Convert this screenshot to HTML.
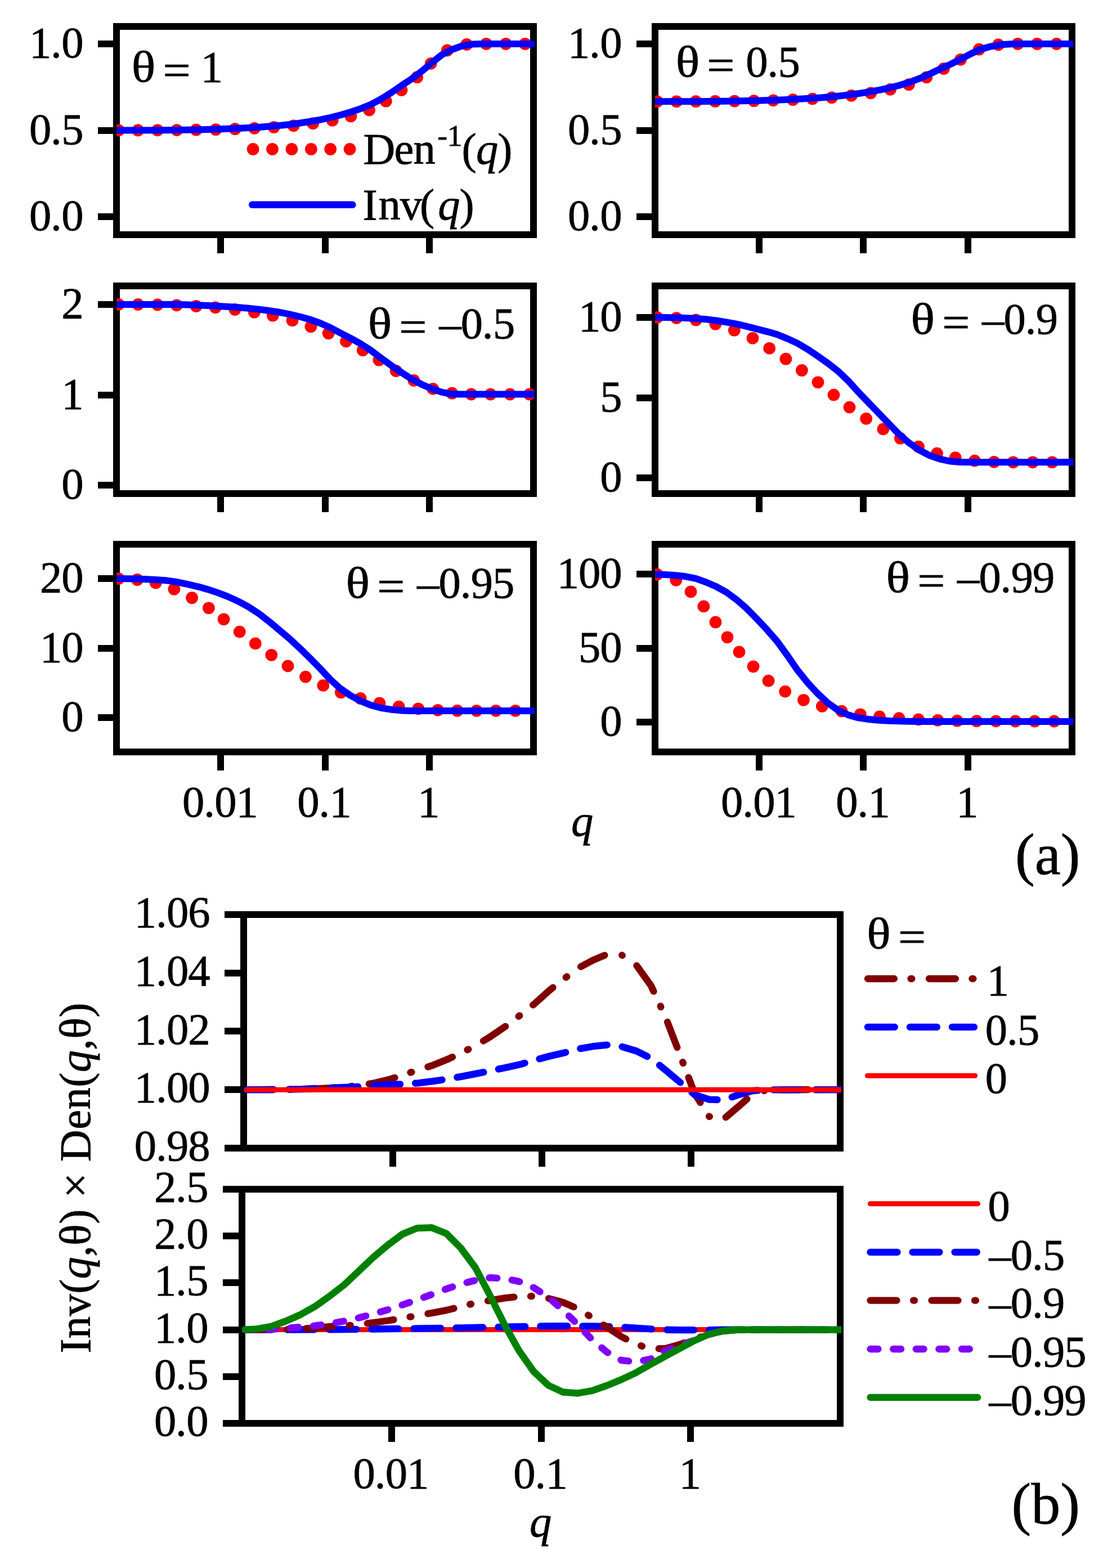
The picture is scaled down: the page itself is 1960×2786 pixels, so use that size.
<!DOCTYPE html>
<html lang="en"><head><meta charset="utf-8"><title>Den and Inv figure</title>
<style>
html,body{margin:0;padding:0;background:#fff;}
svg{display:block;}
text{font-family:"Liberation Serif","Times New Roman",serif;fill:#000;}
</style></head><body>
<svg width="1960" height="2786" viewBox="0 0 1960 2786">
<rect width="1960" height="2786" fill="#fff"/>
<rect x="207.0" y="47.0" width="741" height="370" fill="none" stroke="#000" stroke-width="12"/>
<rect x="174" y="72" width="28" height="12" fill="#000"/>
<g transform="translate(147.4,102)"><text style="font-size:78.5px;stroke:#000;stroke-width:0.8px;"><tspan x="-95.48 -57.29 -38.19" y="0.00">1.0</tspan></text></g>
<rect x="174" y="226" width="28" height="12" fill="#000"/>
<g transform="translate(147.4,256)"><text style="font-size:78.5px;stroke:#000;stroke-width:0.8px;"><tspan x="-95.48 -57.29 -38.19" y="0.00">0.5</tspan></text></g>
<rect x="174" y="379" width="28" height="12" fill="#000"/>
<g transform="translate(147.4,409)"><text style="font-size:78.5px;stroke:#000;stroke-width:0.8px;"><tspan x="-95.48 -57.29 -38.19" y="0.00">0.0</tspan></text></g>
<rect x="386" y="422" width="12" height="28" fill="#000"/>
<rect x="572" y="422" width="12" height="28" fill="#000"/>
<rect x="757" y="422" width="12" height="28" fill="#000"/>
<g transform="translate(236.3,144.7)"><text transform="translate(-2.44,0.00) scale(1.13,1)" style="font-size:78.5px;stroke:#000;stroke-width:0.8px;">θ</text><text transform="translate(53.25,6.00) scale(1.11,1)" style="font-size:78.5px;stroke:#000;stroke-width:0.8px;">=</text><text style="font-size:78.5px;stroke:#000;stroke-width:0.8px;"><tspan x="120.35" y="0.00">1</tspan></text></g>
<clipPath id="c1"><rect x="207" y="47" width="743" height="372"/></clipPath>
<g fill="#f00" clip-path="url(#c1)"><circle cx="210.7" cy="231.5" r="10.9"/><circle cx="245.1" cy="231.5" r="10.9"/><circle cx="279.9" cy="231.4" r="10.9"/><circle cx="314.2" cy="231.1" r="10.9"/><circle cx="348.6" cy="230.7" r="10.9"/><circle cx="383.4" cy="230.2" r="10.9"/><circle cx="417.7" cy="229.2" r="10.9"/><circle cx="452.1" cy="227.9" r="10.9"/><circle cx="486.6" cy="226.1" r="10.9"/><circle cx="521.6" cy="223.4" r="10.9"/><circle cx="556.1" cy="219.4" r="10.9"/><circle cx="590.7" cy="213.9" r="10.9"/><circle cx="623.4" cy="206.5" r="10.9"/><circle cx="656.1" cy="195.5" r="10.9"/><circle cx="685.8" cy="179.7" r="10.9"/><circle cx="713.5" cy="160.0" r="10.9"/><circle cx="741.1" cy="137.2" r="10.9"/><circle cx="765.7" cy="112.8" r="10.9"/><circle cx="794.8" cy="89.5" r="10.9"/><circle cx="829.3" cy="79.0" r="10.9"/><circle cx="864.0" cy="78.0" r="10.9"/><circle cx="898.8" cy="78.0" r="10.9"/><circle cx="933.0" cy="78.0" r="10.9"/></g>
<path d="M210.7,231.5 L261.2,231.4 L297.4,231.2 L333.5,230.8 L351.6,230.5 L369.7,230.1 L387.7,229.5 L423.9,228.0 L442.0,227.1 L460.0,226.0 L478.1,224.6 L496.2,223.1 L514.2,221.2 L532.3,218.8 L550.4,216.0 L568.5,212.8 L586.5,209.0 L604.6,204.5 L622.7,199.3 L640.8,193.1 L658.8,185.7 L676.9,176.1 L695.0,164.9 L713.0,152.3 L731.1,140.4 L749.2,126.8 L767.3,111.5 L785.3,97.2 L803.4,88.0 L821.5,81.4 L839.6,78.6 L857.6,78.0 L948.0,78.0" fill="none" stroke="#00f" stroke-width="12" stroke-linecap="round" stroke-linejoin="round" clip-path="url(#c1)"/>
<rect x="1164.0" y="47.0" width="741" height="370" fill="none" stroke="#000" stroke-width="12"/>
<rect x="1131" y="72" width="28" height="12" fill="#000"/>
<g transform="translate(1104.4,102)"><text style="font-size:78.5px;stroke:#000;stroke-width:0.8px;"><tspan x="-95.48 -57.29 -38.19" y="0.00">1.0</tspan></text></g>
<rect x="1131" y="226" width="28" height="12" fill="#000"/>
<g transform="translate(1104.4,256)"><text style="font-size:78.5px;stroke:#000;stroke-width:0.8px;"><tspan x="-95.48 -57.29 -38.19" y="0.00">0.5</tspan></text></g>
<rect x="1131" y="379" width="28" height="12" fill="#000"/>
<g transform="translate(1104.4,409)"><text style="font-size:78.5px;stroke:#000;stroke-width:0.8px;"><tspan x="-95.48 -57.29 -38.19" y="0.00">0.0</tspan></text></g>
<rect x="1343" y="422" width="12" height="28" fill="#000"/>
<rect x="1528" y="422" width="12" height="28" fill="#000"/>
<rect x="1714" y="422" width="12" height="28" fill="#000"/>
<g transform="translate(1203.1,136)"><text transform="translate(-2.44,0.00) scale(1.13,1)" style="font-size:78.5px;stroke:#000;stroke-width:0.8px;">θ</text><text transform="translate(53.25,6.00) scale(1.11,1)" style="font-size:78.5px;stroke:#000;stroke-width:0.8px;">=</text><text style="font-size:78.5px;stroke:#000;stroke-width:0.8px;"><tspan x="122.15 160.34 179.44" y="0.00">0.5</tspan></text></g>
<clipPath id="c2"><rect x="1164" y="47" width="743" height="372"/></clipPath>
<g fill="#f00" clip-path="url(#c2)"><circle cx="1167.7" cy="180.3" r="10.9"/><circle cx="1202.1" cy="180.3" r="10.9"/><circle cx="1236.5" cy="180.2" r="10.9"/><circle cx="1270.9" cy="180.0" r="10.9"/><circle cx="1305.3" cy="179.7" r="10.9"/><circle cx="1339.7" cy="179.2" r="10.9"/><circle cx="1374.1" cy="178.3" r="10.9"/><circle cx="1408.9" cy="177.2" r="10.9"/><circle cx="1443.7" cy="175.6" r="10.9"/><circle cx="1478.0" cy="173.3" r="10.9"/><circle cx="1512.8" cy="169.9" r="10.9"/><circle cx="1547.3" cy="165.3" r="10.9"/><circle cx="1582.0" cy="158.9" r="10.9"/><circle cx="1614.9" cy="150.2" r="10.9"/><circle cx="1646.3" cy="137.4" r="10.9"/><circle cx="1677.0" cy="122.0" r="10.9"/><circle cx="1706.9" cy="105.9" r="10.9"/><circle cx="1739.8" cy="87.7" r="10.9"/><circle cx="1774.1" cy="79.5" r="10.9"/><circle cx="1808.5" cy="78.0" r="10.9"/><circle cx="1842.9" cy="78.0" r="10.9"/><circle cx="1877.4" cy="78.0" r="10.9"/></g>
<path d="M1167.7,180.3 L1236.3,180.2 L1272.4,179.9 L1308.6,179.4 L1344.7,178.7 L1380.9,177.7 L1399.0,177.0 L1417.0,176.1 L1435.1,175.1 L1453.2,173.9 L1471.2,172.5 L1489.3,170.7 L1507.4,168.6 L1525.5,166.2 L1543.5,163.4 L1561.6,160.2 L1579.7,156.3 L1597.8,151.7 L1615.8,146.3 L1633.9,139.4 L1652.0,131.5 L1670.0,122.8 L1688.1,114.6 L1706.2,105.6 L1724.3,96.0 L1742.3,87.5 L1760.4,82.6 L1778.5,79.3 L1796.6,78.2 L1814.6,78.0 L1905.0,78.0" fill="none" stroke="#00f" stroke-width="12" stroke-linecap="round" stroke-linejoin="round" clip-path="url(#c2)"/>
<rect x="207.0" y="508.0" width="741" height="369" fill="none" stroke="#000" stroke-width="12"/>
<rect x="174" y="535" width="28" height="12" fill="#000"/>
<g transform="translate(147.4,565)"><text style="font-size:78.5px;stroke:#000;stroke-width:0.8px;"><tspan x="-38.19" y="0.00">2</tspan></text></g>
<rect x="174" y="696" width="28" height="12" fill="#000"/>
<g transform="translate(147.4,725.5)"><text style="font-size:78.5px;stroke:#000;stroke-width:0.8px;"><tspan x="-38.19" y="0.00">1</tspan></text></g>
<rect x="174" y="856" width="28" height="12" fill="#000"/>
<g transform="translate(147.4,886)"><text style="font-size:78.5px;stroke:#000;stroke-width:0.8px;"><tspan x="-38.19" y="0.00">0</tspan></text></g>
<rect x="386" y="882" width="12" height="28" fill="#000"/>
<rect x="572" y="882" width="12" height="28" fill="#000"/>
<rect x="757" y="882" width="12" height="28" fill="#000"/>
<g transform="translate(656.1,600.7)"><text transform="translate(-2.44,0.00) scale(1.13,1)" style="font-size:78.5px;stroke:#000;stroke-width:0.8px;">θ</text><text transform="translate(53.25,6.00) scale(1.11,1)" style="font-size:78.5px;stroke:#000;stroke-width:0.8px;">=</text><text style="font-size:78.5px;stroke:#000;stroke-width:0.8px;"><tspan x="124.35 162.54 200.73 219.83" y="0.00">–0.5</tspan></text></g>
<clipPath id="c3"><rect x="207" y="508" width="743" height="371"/></clipPath>
<g fill="#f00" clip-path="url(#c3)"><circle cx="210.7" cy="540.9" r="10.9"/><circle cx="245.3" cy="541.0" r="10.9"/><circle cx="279.8" cy="541.5" r="10.9"/><circle cx="313.9" cy="542.4" r="10.9"/><circle cx="348.6" cy="544.0" r="10.9"/><circle cx="382.8" cy="546.3" r="10.9"/><circle cx="417.5" cy="550.0" r="10.9"/><circle cx="451.9" cy="554.7" r="10.9"/><circle cx="484.8" cy="560.7" r="10.9"/><circle cx="519.5" cy="569.4" r="10.9"/><circle cx="552.4" cy="580.3" r="10.9"/><circle cx="583.7" cy="592.3" r="10.9"/><circle cx="615.0" cy="606.6" r="10.9"/><circle cx="644.7" cy="622.2" r="10.9"/><circle cx="673.4" cy="639.7" r="10.9"/><circle cx="703.7" cy="659.0" r="10.9"/><circle cx="735.4" cy="676.0" r="10.9"/><circle cx="769.3" cy="690.9" r="10.9"/><circle cx="803.2" cy="698.7" r="10.9"/><circle cx="837.4" cy="700.5" r="10.9"/><circle cx="871.6" cy="700.6" r="10.9"/><circle cx="906.3" cy="700.6" r="10.9"/><circle cx="940.7" cy="700.6" r="10.9"/></g>
<path d="M210.7,540.9 L297.4,540.9 L315.4,541.1 L333.5,541.6 L351.6,542.2 L369.7,543.0 L387.7,544.0 L405.8,545.1 L423.9,546.3 L442.0,547.8 L460.0,549.6 L478.1,552.0 L496.2,554.8 L514.2,558.3 L532.3,562.5 L550.4,567.5 L568.5,574.0 L586.5,581.8 L604.6,591.5 L622.7,600.8 L640.8,610.8 L658.8,622.4 L676.9,636.0 L695.0,649.2 L713.0,661.5 L731.1,673.3 L749.2,682.9 L767.3,690.8 L785.3,696.9 L803.4,700.3 L821.5,700.6 L948.0,700.6" fill="none" stroke="#00f" stroke-width="12" stroke-linecap="round" stroke-linejoin="round" clip-path="url(#c3)"/>
<rect x="1164.0" y="508.0" width="741" height="369" fill="none" stroke="#000" stroke-width="12"/>
<rect x="1131" y="558" width="28" height="12" fill="#000"/>
<g transform="translate(1104.4,588)"><text style="font-size:78.5px;stroke:#000;stroke-width:0.8px;"><tspan x="-76.38 -38.19" y="0.00">10</tspan></text></g>
<rect x="1131" y="701" width="28" height="12" fill="#000"/>
<g transform="translate(1104.4,731)"><text style="font-size:78.5px;stroke:#000;stroke-width:0.8px;"><tspan x="-38.19" y="0.00">5</tspan></text></g>
<rect x="1131" y="843" width="28" height="12" fill="#000"/>
<g transform="translate(1104.4,873)"><text style="font-size:78.5px;stroke:#000;stroke-width:0.8px;"><tspan x="-38.19" y="0.00">0</tspan></text></g>
<rect x="1343" y="882" width="12" height="28" fill="#000"/>
<rect x="1528" y="882" width="12" height="28" fill="#000"/>
<rect x="1714" y="882" width="12" height="28" fill="#000"/>
<g transform="translate(1621,592.8)"><text transform="translate(-2.44,0.00) scale(1.13,1)" style="font-size:78.5px;stroke:#000;stroke-width:0.8px;">θ</text><text transform="translate(53.25,6.00) scale(1.11,1)" style="font-size:78.5px;stroke:#000;stroke-width:0.8px;">=</text><text style="font-size:78.5px;stroke:#000;stroke-width:0.8px;"><tspan x="124.35 162.54 200.73 219.83" y="0.00">–0.9</tspan></text></g>
<clipPath id="c4"><rect x="1164" y="508" width="743" height="371"/></clipPath>
<g fill="#f00" clip-path="url(#c4)"><circle cx="1167.7" cy="564.0" r="10.9"/><circle cx="1202.0" cy="565.1" r="10.9"/><circle cx="1236.7" cy="568.5" r="10.9"/><circle cx="1271.4" cy="575.8" r="10.9"/><circle cx="1304.8" cy="586.7" r="10.9"/><circle cx="1337.5" cy="600.9" r="10.9"/><circle cx="1367.2" cy="618.9" r="10.9"/><circle cx="1396.4" cy="637.7" r="10.9"/><circle cx="1424.9" cy="658.0" r="10.9"/><circle cx="1453.5" cy="679.3" r="10.9"/><circle cx="1481.5" cy="701.6" r="10.9"/><circle cx="1509.5" cy="723.6" r="10.9"/><circle cx="1539.2" cy="743.9" r="10.9"/><circle cx="1569.4" cy="762.4" r="10.9"/><circle cx="1599.8" cy="778.7" r="10.9"/><circle cx="1632.0" cy="793.7" r="10.9"/><circle cx="1665.0" cy="805.6" r="10.9"/><circle cx="1697.7" cy="813.2" r="10.9"/><circle cx="1731.9" cy="818.6" r="10.9"/><circle cx="1766.5" cy="820.8" r="10.9"/><circle cx="1800.5" cy="821.3" r="10.9"/><circle cx="1835.1" cy="821.3" r="10.9"/><circle cx="1869.7" cy="821.3" r="10.9"/></g>
<path d="M1167.7,563.9 L1182.1,564.1 L1200.1,564.4 L1218.2,565.0 L1236.3,566.0 L1254.4,567.3 L1272.4,569.5 L1290.5,572.4 L1308.6,575.7 L1326.7,579.9 L1362.8,589.1 L1380.9,594.3 L1399.0,601.6 L1417.0,609.9 L1435.1,620.6 L1453.2,632.8 L1471.2,645.5 L1489.3,659.5 L1507.4,676.8 L1525.5,696.9 L1579.7,753.2 L1597.8,771.7 L1615.8,787.2 L1633.9,799.9 L1652.0,809.4 L1670.0,815.6 L1688.1,819.5 L1706.2,821.0 L1724.3,821.3 L1905.0,821.3" fill="none" stroke="#00f" stroke-width="12" stroke-linecap="round" stroke-linejoin="round" clip-path="url(#c4)"/>
<rect x="207.0" y="967.0" width="741" height="369" fill="none" stroke="#000" stroke-width="12"/>
<rect x="174" y="1022" width="28" height="12" fill="#000"/>
<g transform="translate(147.4,1052)"><text style="font-size:78.5px;stroke:#000;stroke-width:0.8px;"><tspan x="-76.38 -38.19" y="0.00">20</tspan></text></g>
<rect x="174" y="1146" width="28" height="12" fill="#000"/>
<g transform="translate(147.4,1175.5)"><text style="font-size:78.5px;stroke:#000;stroke-width:0.8px;"><tspan x="-76.38 -38.19" y="0.00">10</tspan></text></g>
<rect x="174" y="1269" width="28" height="12" fill="#000"/>
<g transform="translate(147.4,1299)"><text style="font-size:78.5px;stroke:#000;stroke-width:0.8px;"><tspan x="-38.19" y="0.00">0</tspan></text></g>
<rect x="386" y="1341" width="12" height="28" fill="#000"/>
<g transform="translate(390.75,1450.5)"><text style="font-size:78.5px;stroke:#000;stroke-width:0.8px;"><tspan x="-66.83 -28.64 -9.55 28.64" y="0.00">0.01</tspan></text></g>
<rect x="572" y="1341" width="12" height="28" fill="#000"/>
<g transform="translate(576.0,1450.5)"><text style="font-size:78.5px;stroke:#000;stroke-width:0.8px;"><tspan x="-47.74 -9.55 9.55" y="0.00">0.1</tspan></text></g>
<rect x="757" y="1341" width="12" height="28" fill="#000"/>
<g transform="translate(761.25,1450.5)"><text style="font-size:78.5px;stroke:#000;stroke-width:0.8px;"><tspan x="-19.10" y="0.00">1</tspan></text></g>
<g transform="translate(617,1062)"><text transform="translate(-2.44,0.00) scale(1.13,1)" style="font-size:78.5px;stroke:#000;stroke-width:0.8px;">θ</text><text transform="translate(53.25,6.00) scale(1.11,1)" style="font-size:78.5px;stroke:#000;stroke-width:0.8px;">=</text><text style="font-size:78.5px;stroke:#000;stroke-width:0.8px;"><tspan x="124.35 162.54 200.73 219.83 258.02" y="0.00">–0.95</tspan></text></g>
<clipPath id="c5"><rect x="207" y="967" width="743" height="371"/></clipPath>
<g fill="#f00" clip-path="url(#c5)"><circle cx="210.7" cy="1028.1" r="10.9"/><circle cx="244.0" cy="1030.0" r="10.9"/><circle cx="276.7" cy="1035.6" r="10.9"/><circle cx="309.4" cy="1046.8" r="10.9"/><circle cx="341.1" cy="1062.2" r="10.9"/><circle cx="370.9" cy="1080.3" r="10.9"/><circle cx="397.6" cy="1100.3" r="10.9"/><circle cx="425.8" cy="1122.6" r="10.9"/><circle cx="453.8" cy="1143.4" r="10.9"/><circle cx="482.3" cy="1163.8" r="10.9"/><circle cx="511.5" cy="1183.4" r="10.9"/><circle cx="543.0" cy="1202.6" r="10.9"/><circle cx="574.3" cy="1217.9" r="10.9"/><circle cx="605.8" cy="1230.3" r="10.9"/><circle cx="640.5" cy="1241.0" r="10.9"/><circle cx="674.4" cy="1249.4" r="10.9"/><circle cx="708.6" cy="1255.6" r="10.9"/><circle cx="743.3" cy="1259.3" r="10.9"/><circle cx="778.0" cy="1261.8" r="10.9"/><circle cx="812.6" cy="1262.7" r="10.9"/><circle cx="846.8" cy="1262.8" r="10.9"/><circle cx="881.2" cy="1262.8" r="10.9"/><circle cx="915.9" cy="1262.8" r="10.9"/></g>
<path d="M210.7,1028.1 L225.1,1028.2 L243.1,1028.6 L261.2,1029.2 L279.3,1030.2 L297.4,1031.6 L315.4,1034.3 L333.5,1038.1 L351.6,1042.3 L369.7,1047.4 L387.7,1053.4 L405.8,1060.4 L423.9,1068.8 L442.0,1078.4 L460.0,1090.3 L478.1,1104.2 L514.2,1134.6 L532.3,1151.4 L550.4,1169.0 L568.5,1187.4 L586.5,1206.9 L604.6,1223.3 L622.7,1235.8 L640.8,1245.5 L658.8,1252.9 L676.9,1257.8 L695.0,1260.7 L713.0,1262.4 L731.1,1262.9 L948.0,1262.9" fill="none" stroke="#00f" stroke-width="12" stroke-linecap="round" stroke-linejoin="round" clip-path="url(#c5)"/>
<rect x="1164.0" y="967.0" width="741" height="369" fill="none" stroke="#000" stroke-width="12"/>
<rect x="1131" y="1014" width="28" height="12" fill="#000"/>
<g transform="translate(1104.4,1044)"><text style="font-size:78.5px;stroke:#000;stroke-width:0.8px;"><tspan x="-114.57 -76.38 -38.19" y="0.00">100</tspan></text></g>
<rect x="1131" y="1146" width="28" height="12" fill="#000"/>
<g transform="translate(1104.4,1176)"><text style="font-size:78.5px;stroke:#000;stroke-width:0.8px;"><tspan x="-76.38 -38.19" y="0.00">50</tspan></text></g>
<rect x="1131" y="1277" width="28" height="12" fill="#000"/>
<g transform="translate(1104.4,1307)"><text style="font-size:78.5px;stroke:#000;stroke-width:0.8px;"><tspan x="-38.19" y="0.00">0</tspan></text></g>
<rect x="1343" y="1341" width="12" height="28" fill="#000"/>
<g transform="translate(1347.75,1450.5)"><text style="font-size:78.5px;stroke:#000;stroke-width:0.8px;"><tspan x="-66.83 -28.64 -9.55 28.64" y="0.00">0.01</tspan></text></g>
<rect x="1528" y="1341" width="12" height="28" fill="#000"/>
<g transform="translate(1533.0,1450.5)"><text style="font-size:78.5px;stroke:#000;stroke-width:0.8px;"><tspan x="-47.74 -9.55 9.55" y="0.00">0.1</tspan></text></g>
<rect x="1714" y="1341" width="12" height="28" fill="#000"/>
<g transform="translate(1718.25,1450.5)"><text style="font-size:78.5px;stroke:#000;stroke-width:0.8px;"><tspan x="-19.10" y="0.00">1</tspan></text></g>
<g transform="translate(1576.9,1052)"><text transform="translate(-2.44,0.00) scale(1.13,1)" style="font-size:78.5px;stroke:#000;stroke-width:0.8px;">θ</text><text transform="translate(53.25,6.00) scale(1.11,1)" style="font-size:78.5px;stroke:#000;stroke-width:0.8px;">=</text><text style="font-size:78.5px;stroke:#000;stroke-width:0.8px;"><tspan x="124.35 162.54 200.73 219.83 258.02" y="0.00">–0.99</tspan></text></g>
<clipPath id="c6"><rect x="1164" y="967" width="743" height="371"/></clipPath>
<g fill="#f00" clip-path="url(#c6)"><circle cx="1167.7" cy="1020.6" r="10.9"/><circle cx="1201.3" cy="1030.8" r="10.9"/><circle cx="1227.5" cy="1051.4" r="10.9"/><circle cx="1250.4" cy="1077.4" r="10.9"/><circle cx="1271.5" cy="1105.5" r="10.9"/><circle cx="1292.4" cy="1132.3" r="10.9"/><circle cx="1313.5" cy="1158.4" r="10.9"/><circle cx="1338.6" cy="1184.3" r="10.9"/><circle cx="1365.5" cy="1209.6" r="10.9"/><circle cx="1395.2" cy="1228.6" r="10.9"/><circle cx="1427.9" cy="1243.8" r="10.9"/><circle cx="1460.8" cy="1254.9" r="10.9"/><circle cx="1495.5" cy="1263.6" r="10.9"/><circle cx="1528.8" cy="1269.3" r="10.9"/><circle cx="1562.9" cy="1273.3" r="10.9"/><circle cx="1597.5" cy="1276.2" r="10.9"/><circle cx="1632.1" cy="1278.4" r="10.9"/><circle cx="1666.4" cy="1279.8" r="10.9"/><circle cx="1700.8" cy="1280.7" r="10.9"/><circle cx="1735.4" cy="1281.2" r="10.9"/><circle cx="1769.7" cy="1281.4" r="10.9"/><circle cx="1804.3" cy="1281.5" r="10.9"/><circle cx="1838.6" cy="1281.5" r="10.9"/><circle cx="1873.2" cy="1281.5" r="10.9"/></g>
<path d="M1167.7,1020.4 L1182.1,1021.0 L1200.1,1022.2 L1218.2,1024.3 L1236.3,1027.9 L1254.4,1034.3 L1272.4,1042.1 L1290.5,1052.0 L1308.6,1065.3 L1326.7,1081.1 L1344.7,1099.4 L1362.8,1118.7 L1380.9,1139.5 L1399.0,1164.4 L1417.0,1190.6 L1435.1,1213.1 L1453.2,1232.5 L1471.2,1249.2 L1489.3,1262.0 L1507.4,1270.4 L1525.5,1275.4 L1543.5,1278.0 L1561.6,1279.7 L1579.7,1280.8 L1597.8,1281.3 L1615.8,1281.7 L1652.0,1281.9 L1905.0,1281.9" fill="none" stroke="#00f" stroke-width="12" stroke-linecap="round" stroke-linejoin="round" clip-path="url(#c6)"/>
<g transform="translate(1015,1485)"><text style="font-size:78.5px;stroke:#000;stroke-width:0.8px;"><tspan x="0.00" y="0.00" style="font-style:italic;">q</tspan></text></g>
<g transform="translate(1804,1552.5)"><text style="font-size:104px;stroke:#000;stroke-width:0.8px;"><tspan x="0.00 34.63 80.79" y="0.00">(a)</tspan></text></g>
<g fill="#f00"><circle cx="449.6" cy="265" r="10.9"/><circle cx="484.0" cy="265" r="10.9"/><circle cx="518.4" cy="265" r="10.9"/><circle cx="552.8" cy="265" r="10.9"/><circle cx="587.2" cy="265" r="10.9"/><circle cx="621.6" cy="265" r="10.9"/></g>
<line x1="448.2" y1="363.8" x2="626.4" y2="363.8" stroke="#00f" stroke-width="12.5" stroke-linecap="round"/>
<g transform="translate(645.4,291)"><text style="font-size:78.5px;stroke:#000;stroke-width:0.8px;"><tspan x="0.00 55.16 89.06" y="0.00">Den</tspan><tspan x="131.95 149.25" y="-32.40" style="font-size:53.38px;">-1</tspan><tspan x="175.22" y="0.00">(</tspan><tspan x="200.65" y="0.00" style="font-style:italic;">q</tspan><tspan x="238.84" y="0.00">)</tspan></text></g>
<g transform="translate(644.6,390)"><text style="font-size:78.5px;stroke:#000;stroke-width:0.8px;"><tspan x="0.00 27.94 66.13 101.32" y="0.00">Inv(</tspan><tspan x="133.75" y="0.00" style="font-style:italic;">q</tspan><tspan x="171.94" y="0.00">)</tspan></text></g>
<rect x="433.0" y="1625.0" width="1060" height="415" fill="none" stroke="#000" stroke-width="12"/>
<rect x="430.0" y="2113.0" width="1063" height="416" fill="none" stroke="#000" stroke-width="12"/>
<rect x="399" y="1619" width="29" height="12" fill="#000"/>
<g transform="translate(372.4,1647.0)"><text style="font-size:78.5px;stroke:#000;stroke-width:0.8px;"><tspan x="-133.67 -95.48 -76.38 -38.19" y="0.00">1.06</tspan></text></g>
<rect x="399" y="1723" width="29" height="12" fill="#000"/>
<g transform="translate(372.4,1750.75)"><text style="font-size:78.5px;stroke:#000;stroke-width:0.8px;"><tspan x="-133.67 -95.48 -76.38 -38.19" y="0.00">1.04</tspan></text></g>
<rect x="399" y="1826" width="29" height="12" fill="#000"/>
<g transform="translate(372.4,1854.5)"><text style="font-size:78.5px;stroke:#000;stroke-width:0.8px;"><tspan x="-133.67 -95.48 -76.38 -38.19" y="0.00">1.02</tspan></text></g>
<rect x="399" y="1930" width="29" height="12" fill="#000"/>
<g transform="translate(372.4,1958.25)"><text style="font-size:78.5px;stroke:#000;stroke-width:0.8px;"><tspan x="-133.67 -95.48 -76.38 -38.19" y="0.00">1.00</tspan></text></g>
<rect x="399" y="2034" width="29" height="12" fill="#000"/>
<g transform="translate(372.4,2062.0)"><text style="font-size:78.5px;stroke:#000;stroke-width:0.8px;"><tspan x="-133.67 -95.48 -76.38 -38.19" y="0.00">0.98</tspan></text></g>
<rect x="396" y="2107" width="29" height="12" fill="#000"/>
<g transform="translate(369.4,2135.0)"><text style="font-size:78.5px;stroke:#000;stroke-width:0.8px;"><tspan x="-95.48 -57.29 -38.19" y="0.00">2.5</tspan></text></g>
<rect x="396" y="2190" width="29" height="12" fill="#000"/>
<g transform="translate(369.4,2218.2)"><text style="font-size:78.5px;stroke:#000;stroke-width:0.8px;"><tspan x="-95.48 -57.29 -38.19" y="0.00">2.0</tspan></text></g>
<rect x="396" y="2273" width="29" height="12" fill="#000"/>
<g transform="translate(369.4,2301.4)"><text style="font-size:78.5px;stroke:#000;stroke-width:0.8px;"><tspan x="-95.48 -57.29 -38.19" y="0.00">1.5</tspan></text></g>
<rect x="396" y="2357" width="29" height="12" fill="#000"/>
<g transform="translate(369.4,2384.6)"><text style="font-size:78.5px;stroke:#000;stroke-width:0.8px;"><tspan x="-95.48 -57.29 -38.19" y="0.00">1.0</tspan></text></g>
<rect x="396" y="2440" width="29" height="12" fill="#000"/>
<g transform="translate(369.4,2467.8)"><text style="font-size:78.5px;stroke:#000;stroke-width:0.8px;"><tspan x="-95.48 -57.29 -38.19" y="0.00">0.5</tspan></text></g>
<rect x="396" y="2523" width="29" height="12" fill="#000"/>
<g transform="translate(369.4,2551.0)"><text style="font-size:78.5px;stroke:#000;stroke-width:0.8px;"><tspan x="-95.48 -57.29 -38.19" y="0.00">0.0</tspan></text></g>
<rect x="692" y="2045" width="12" height="28" fill="#000"/>
<rect x="690" y="2534" width="12" height="28" fill="#000"/>
<g transform="translate(694.25,2643.5)"><text style="font-size:78.5px;stroke:#000;stroke-width:0.8px;"><tspan x="-66.83 -28.64 -9.55 28.64" y="0.00">0.01</tspan></text></g>
<rect x="957" y="2045" width="12" height="28" fill="#000"/>
<rect x="956" y="2534" width="12" height="28" fill="#000"/>
<g transform="translate(960.0,2643.5)"><text style="font-size:78.5px;stroke:#000;stroke-width:0.8px;"><tspan x="-47.74 -9.55 9.55" y="0.00">0.1</tspan></text></g>
<rect x="1222" y="2045" width="12" height="28" fill="#000"/>
<rect x="1221" y="2534" width="12" height="28" fill="#000"/>
<g transform="translate(1225.75,2643.5)"><text style="font-size:78.5px;stroke:#000;stroke-width:0.8px;"><tspan x="-19.10" y="0.00">1</tspan></text></g>
<g transform="translate(941,2729.5)"><text style="font-size:78.5px;stroke:#000;stroke-width:0.8px;"><tspan x="0.00" y="0.00" style="font-style:italic;">q</tspan></text></g>
<g transform="translate(1797.5,2707.4)"><text style="font-size:104px;stroke:#000;stroke-width:0.8px;"><tspan x="0.00 34.63 86.63" y="0.00">(b)</tspan></text></g>
<g transform="translate(159.5,2093) rotate(-90)"><text style="font-size:78.5px;stroke:#000;stroke-width:0.8px;"><tspan x="-311.62 -285.19 -245.51 -205.83" y="0.00">Inv(</tspan><tspan x="-179.40" y="0.00" style="font-style:italic;">q</tspan><tspan x="-139.72 -119.88 -81.86" y="0.00">,θ)</tspan></text><text style="font-size:78.5px;stroke:#000;stroke-width:0.8px;"><tspan x="-35.59" y="0.00">×</tspan></text><text style="font-size:78.5px;stroke:#000;stroke-width:0.8px;"><tspan x="29.01 86.32 121.54 161.23" y="0.00">Den(</tspan><tspan x="187.66" y="0.00" style="font-style:italic;">q</tspan><tspan x="227.34 247.18 285.19" y="0.00">,θ)</tspan></text></g>
<g transform="translate(1542.8,1684.5)"><text transform="translate(-2.44,0.00) scale(1.13,1)" style="font-size:78.5px;stroke:#000;stroke-width:0.8px;">θ</text><text transform="translate(53.25,6.00) scale(1.11,1)" style="font-size:78.5px;stroke:#000;stroke-width:0.8px;">=</text></g>
<line x1="1541.9" y1="1739" x2="1731" y2="1739" stroke="#800000" stroke-width="12.3" stroke-linecap="round" stroke-dasharray="47 29.5 2 30.5"/>
<g transform="translate(1753.8,1768)"><text style="font-size:78.5px;stroke:#000;stroke-width:0.8px;"><tspan x="0.00" y="0.00">1</tspan></text></g>
<line x1="1541.9" y1="1824.9" x2="1731" y2="1824.9" stroke="#00f" stroke-width="12.3" stroke-linecap="round" stroke-dasharray="48 27"/>
<g transform="translate(1750.8,1856)"><text style="font-size:78.5px;stroke:#000;stroke-width:0.8px;"><tspan x="0.00 38.19 57.29" y="0.00">0.5</tspan></text></g>
<line x1="1541.4" y1="1911.3" x2="1732.7" y2="1911.3" stroke="#f00" stroke-width="9" stroke-linecap="round"/>
<g transform="translate(1750.8,1942)"><text style="font-size:78.5px;stroke:#000;stroke-width:0.8px;"><tspan x="0.00" y="0.00">0</tspan></text></g>
<line x1="1546.3" y1="2138.7" x2="1737.5" y2="2138.7" stroke="#f00" stroke-width="9" stroke-linecap="round"/>
<g transform="translate(1755.4,2169)"><text style="font-size:78.5px;stroke:#000;stroke-width:0.8px;"><tspan x="0.00" y="0.00">0</tspan></text></g>
<line x1="1546.5" y1="2224.8" x2="1735.8" y2="2224.8" stroke="#00f" stroke-width="12.3" stroke-linecap="round" stroke-dasharray="48 27"/>
<g transform="translate(1757.5,2255.5)"><text style="font-size:78.5px;stroke:#000;stroke-width:0.8px;"><tspan x="0.00 38.19 76.38 95.48" y="0.00">–0.5</tspan></text></g>
<line x1="1546.5" y1="2310.6" x2="1734" y2="2310.6" stroke="#800000" stroke-width="12.3" stroke-linecap="round" stroke-dasharray="47 29.5 2 30.5"/>
<g transform="translate(1757.5,2341)"><text style="font-size:78.5px;stroke:#000;stroke-width:0.8px;"><tspan x="0.00 38.19 76.38 95.48" y="0.00">–0.9</tspan></text></g>
<line x1="1546.5" y1="2397" x2="1723" y2="2397" stroke="#8000ff" stroke-width="12.3" stroke-linecap="round" stroke-dasharray="14 26.6"/>
<g transform="translate(1757.5,2427.5)"><text style="font-size:78.5px;stroke:#000;stroke-width:0.8px;"><tspan x="0.00 38.19 76.38 95.48 133.67" y="0.00">–0.95</tspan></text></g>
<line x1="1546.5" y1="2482.8" x2="1737.2" y2="2482.8" stroke="#008000" stroke-width="12.3" stroke-linecap="round"/>
<g transform="translate(1757.5,2513.5)"><text style="font-size:78.5px;stroke:#000;stroke-width:0.8px;"><tspan x="0.00 38.19 76.38 95.48 133.67" y="0.00">–0.99</tspan></text></g>
<clipPath id="c7"><rect x="433" y="1625" width="1062" height="417"/></clipPath>
<path d="M438.3,1936.2 L458.9,1936.2 L485.3,1936.0M514.8,1935.6 L516.8,1935.6M547.3,1934.9 L562.3,1934.3 L588.1,1933.1 L594.2,1932.6M623.6,1930.2 L625.6,1930.0M655.8,1925.8 L665.7,1924.2 L691.5,1918.1 L701.4,1914.8M729.4,1905.6 L731.4,1905.0M760.4,1895.6 L769.1,1892.8 L795.0,1882.3 L804.0,1878.2M830.5,1865.3 L832.3,1864.4M858.9,1849.4 L872.5,1841.2 L898.2,1823.7M921.6,1805.8 L923.2,1804.6M947.1,1785.6 L950.1,1783.3 L975.9,1760.0 L982.5,1754.7M1005.7,1736.5 L1007.3,1735.3M1032.1,1717.6 L1053.5,1706.1 L1074.4,1697.3M1105.2,1697.1 L1105.8,1697.6M1131.4,1715.7 L1156.9,1751.4 L1161.5,1761.3M1173.7,1787.7 L1174.3,1789.2M1186.0,1815.9 L1203.3,1861.1M1213.2,1887.2 L1213.9,1889.1M1223.6,1914.5 L1234.5,1943.1 L1244.5,1959.0M1260.1,1983.5 L1260.3,1983.9 L1260.8,1984.0M1289.6,1985.2 L1312.0,1966.3 L1327.3,1952.9M1357.7,1938.0 L1358.3,1937.8M1389.0,1936.3 L1436.0,1936.2M1466.7,1936.2 L1467.3,1936.2" fill="none" stroke="#800000" stroke-width="12.3" stroke-linecap="round" stroke-linejoin="round" clip-path="url(#c7)"/>
<path d="M438.3,1936.2 L458.9,1936.2 L484.7,1936.0 L510.6,1935.6 L536.4,1935.1 L588.1,1932.8 L614.0,1931.8 L639.8,1930.7 L665.7,1929.2 L691.5,1927.5 L717.4,1926.1 L743.2,1924.3 L769.1,1921.2 L795.0,1917.3 L820.8,1912.6 L846.7,1907.6 L872.5,1902.4 L898.4,1896.9 L924.2,1891.3 L950.1,1883.7 L975.9,1876.7 L1001.8,1870.7 L1027.6,1863.8 L1053.5,1859.2 L1079.3,1856.6 L1105.2,1859.7 L1131.0,1867.5 L1156.9,1880.4 L1182.8,1901.5 L1208.6,1923.1 L1234.5,1945.2 L1260.3,1953.6 L1286.2,1954.3 L1312.0,1945.4 L1337.9,1938.0 L1363.7,1936.3 L1493.0,1936.2" fill="none" stroke="#00f" stroke-width="12.3" stroke-linecap="round" stroke-linejoin="round" clip-path="url(#c7)" stroke-dasharray="48 27"/>
<path d="M438.3,1936.2 L1493.0,1936.2" fill="none" stroke="#f00" stroke-width="9" stroke-linecap="round" stroke-linejoin="round" clip-path="url(#c7)"/>
<clipPath id="c8"><rect x="430" y="2113" width="1065" height="418"/></clipPath>
<path d="M435.3,2362.6 L1493.0,2362.6" fill="none" stroke="#f00" stroke-width="9" stroke-linecap="round" stroke-linejoin="round" clip-path="url(#c8)"/>
<path d="M435.3,2362.6 L559.6,2362.4 L585.6,2362.3 L637.4,2361.8 L741.1,2360.5 L793.0,2359.7 L818.9,2359.3 L948.5,2356.6 L974.5,2356.2 L1000.4,2356.2 L1052.2,2356.4 L1078.2,2356.9 L1104.1,2358.1 L1130.0,2359.6 L1156.0,2361.4 L1181.9,2362.7 L1207.8,2363.2 L1259.7,2363.1 L1285.6,2362.7 L1311.5,2362.6 L1493.0,2362.6" fill="none" stroke="#00f" stroke-width="12.3" stroke-linecap="round" stroke-linejoin="round" clip-path="url(#c8)" stroke-dasharray="48 27"/>
<path d="M435.3,2362.6 L455.9,2362.4 L481.9,2362.1 L507.8,2361.7 L533.7,2361.0 L559.6,2359.5 L585.6,2357.0 L611.5,2355.8 L637.4,2353.5 L663.3,2350.0 L689.3,2346.5 L715.2,2342.2 L741.1,2337.5 L767.0,2333.0 L793.0,2328.1 L818.9,2321.7 L844.8,2315.0 L896.7,2306.4 L922.6,2303.8 L948.5,2302.9 L974.5,2306.9 L1000.4,2314.0 L1026.3,2324.9 L1052.2,2341.1 L1078.2,2357.9 L1104.1,2374.9 L1130.0,2388.3 L1156.0,2396.5 L1181.9,2396.1 L1207.8,2388.8 L1259.7,2370.4 L1285.6,2364.8 L1311.5,2362.7 L1337.4,2362.6 L1493.0,2362.6" fill="none" stroke="#800000" stroke-width="12.3" stroke-linecap="round" stroke-linejoin="round" clip-path="url(#c8)" stroke-dasharray="47 29.5 2 30.5"/>
<path d="M435.3,2362.6 L455.9,2362.4 L481.9,2362.0 L507.8,2360.2 L559.6,2355.7 L585.6,2352.1 L611.5,2347.3 L637.4,2341.5 L663.3,2334.7 L689.3,2327.1 L715.2,2318.5 L741.1,2309.5 L767.0,2300.0 L793.0,2290.2 L818.9,2281.5 L844.8,2274.9 L870.8,2270.2 L896.7,2271.6 L922.6,2277.1 L948.5,2287.9 L974.5,2305.2 L1000.4,2327.7 L1026.3,2353.3 L1052.2,2380.3 L1078.2,2402.2 L1104.1,2416.8 L1130.0,2420.0 L1156.0,2414.7 L1181.9,2400.4 L1207.8,2390.0 L1233.7,2381.5 L1259.7,2370.9 L1285.6,2364.8 L1311.5,2362.7 L1337.4,2362.6 L1493.0,2362.6" fill="none" stroke="#8000ff" stroke-width="12.3" stroke-linecap="round" stroke-linejoin="round" clip-path="url(#c8)" stroke-dasharray="14 26.6"/>
<path d="M435.3,2362.3 L455.9,2361.3 L481.9,2356.8 L507.8,2347.4 L533.7,2336.0 L559.6,2321.4 L585.6,2303.0 L611.5,2283.0 L663.3,2234.0 L689.3,2212.0 L715.2,2192.8 L741.1,2182.1 L767.0,2181.2 L793.0,2191.6 L818.9,2217.5 L844.8,2252.5 L870.8,2301.9 L896.7,2354.0 L922.6,2400.4 L948.5,2437.1 L974.5,2461.5 L1000.4,2473.5 L1026.3,2475.5 L1052.2,2471.0 L1078.2,2461.9 L1104.1,2451.3 L1130.0,2439.0 L1156.0,2424.1 L1181.9,2409.9 L1233.7,2382.2 L1259.7,2370.6 L1285.6,2364.5 L1311.5,2362.6 L1493.0,2362.6" fill="none" stroke="#008000" stroke-width="12.3" stroke-linecap="round" stroke-linejoin="round" clip-path="url(#c8)"/>
</svg>
</body></html>
